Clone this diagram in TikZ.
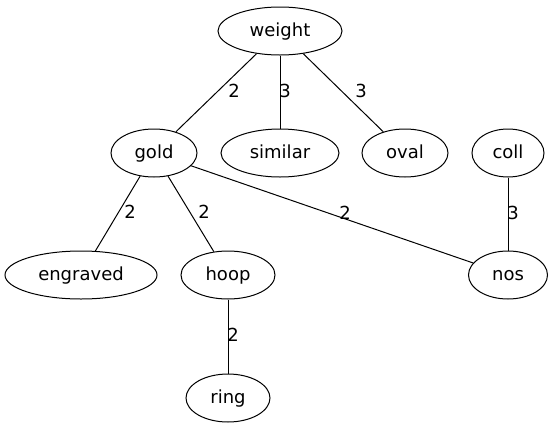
\documentclass[tikz,border=0pt]{standalone}
\usepackage{fontspec}
\setmainfont{DejaVu Sans}
\usetikzlibrary{shapes.geometric}
\tikzset{
  vtx/.style={draw, ellipse, line width=1pt, inner sep=0pt, minimum height=48pt,
              font=\fontsize{18}{22}\selectfont, text height=12pt, text depth=1pt},
  lbl/.style={inner sep=0pt, font=\fontsize{18}{22}\selectfont},
  edge/.style={line width=1pt}
}
\begin{document}
\begin{tikzpicture}[x=1pt,y=-1pt]
\useasboundingbox (0,0) rectangle (552,429);
\node[vtx, minimum width=124pt] (weight) at (280,31) {weight};
\node[vtx, minimum width=86pt] (gold) at (154,153) {gold};
\node[vtx, minimum width=118pt] (similar) at (280,153) {similar};
\node[vtx, minimum width=86pt] (oval) at (405,153) {oval};
\node[vtx, minimum width=72pt] (coll) at (508,153) {coll};
\node[vtx, minimum width=152pt] (engraved) at (81,275) {engraved};
\node[vtx, minimum width=94pt] (hoop) at (228,275) {hoop};
\node[vtx, minimum width=79pt] (nos) at (508,275) {nos};
\node[vtx, minimum width=84pt] (ring) at (228,398) {ring};
\draw[edge] (weight) -- (gold);
\draw[edge] (weight) -- (similar);
\draw[edge] (weight) -- (oval);
\draw[edge] (gold) -- (engraved);
\draw[edge] (gold) -- (hoop);
\draw[edge] (gold) -- (nos);
\draw[edge] (coll) -- (nos);
\draw[edge] (hoop) -- (ring);
\node[lbl] (l1) at (234,91) {2};
\node[lbl] (l2) at (285,91) {3};
\node[lbl] (l3) at (361,91) {3};
\node[lbl] (l4) at (130,212) {2};
\node[lbl] (l5) at (204,212) {2};
\node[lbl] (l6) at (345,213) {2};
\node[lbl] (l7) at (513,213) {3};
\node[lbl] (l8) at (233,335) {2};
\end{tikzpicture}
\end{document}
